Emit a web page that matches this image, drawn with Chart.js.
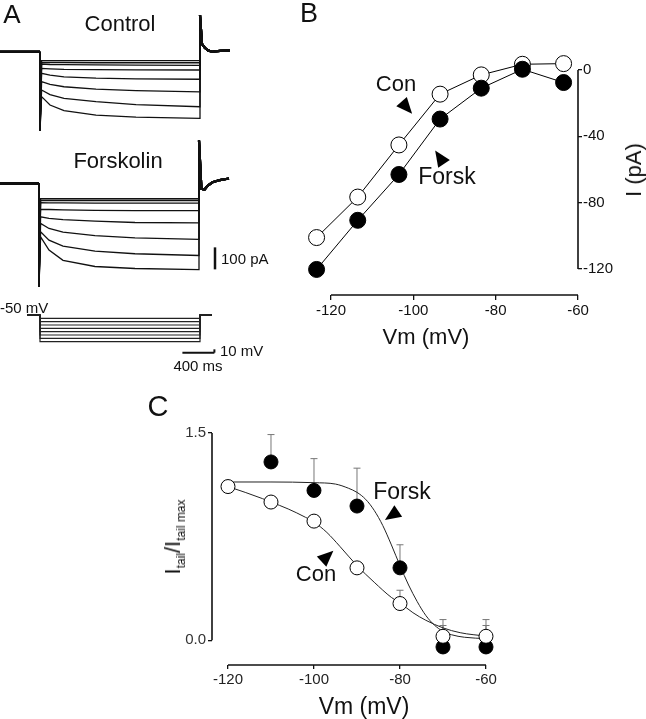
<!DOCTYPE html>
<html>
<head>
<meta charset="utf-8">
<script src="https://cdn.jsdelivr.net/npm/chart.js@4.4.1/dist/chart.umd.min.js"></script>
<style>
  html, body { margin: 0; padding: 0; background: #fff; overflow: hidden; }
  #fig { position: relative; width: 646px; height: 719px; font-family: "Liberation Sans", Arial, sans-serif; color: #111; }
  #fig canvas { position: absolute; }
  .t { position: absolute; transform: translate(-50%, -50%); white-space: nowrap; line-height: 1; }
  .l { position: absolute; transform: translate(0, -50%); white-space: nowrap; line-height: 1; }
  .rot { transform: translate(-50%, -50%) rotate(-90deg); }
  .sub { font-size: 12px; position: relative; top: 5px; }
</style>
</head>
<body>
<div id="fig">
  <canvas id="ctrl" width="240" height="140" style="left:0;top:0"></canvas>
  <canvas id="forsk" width="240" height="155" style="left:-1px;top:140px"></canvas>
  <canvas id="proto" width="240" height="60" style="left:0;top:295px"></canvas>
  <canvas id="iv" width="350" height="300" style="left:296px;top:40px"></canvas>
  <canvas id="tail" width="371" height="280" style="left:142px;top:415px"></canvas>

  <div class="t" style="left:12px;top:14px;font-size:26px">A</div>
  <div class="t" style="left:120px;top:24px;font-size:22px">Control</div>
  <div class="t" style="left:118px;top:161px;font-size:22px">Forskolin</div>
  <div class="l" style="left:221px;top:258px;font-size:15px">100 pA</div>
  <div class="l" style="left:0;top:307px;font-size:15px">-50 mV</div>
  <div class="l" style="left:220px;top:350px;font-size:15px">10 mV</div>
  <div class="t" style="left:198px;top:365px;font-size:15px">400 ms</div>

  <div class="t" style="left:309px;top:13px;font-size:27px">B</div>
  <div class="t" style="left:396px;top:84px;font-size:22px">Con</div>
  <div class="t" style="left:447px;top:176px;font-size:23px">Forsk</div>
  <div class="t" style="left:426px;top:337px;font-size:22px">Vm (mV)</div>
  <div class="t rot" style="left:634px;top:170px;font-size:22px">I (pA)</div>

  <div class="t" style="left:158px;top:406px;font-size:29px">C</div>
  <div class="t" style="left:402px;top:491px;font-size:23px">Forsk</div>
  <div class="t" style="left:316px;top:574px;font-size:22px">Con</div>
  <div class="t" style="left:364px;top:706px;font-size:23px">Vm (mV)</div>
  <div class="t rot" style="left:173px;top:537px;font-size:22px">I<span class="sub">tail</span>/I<span class="sub">tail max</span></div>
</div>

<script>
// ---- panel A: current sweeps (ms, pA) ----
const sweepTimes = [20, 125, 300, 700, 1200, 2000];
const controlSweeps = [
  [-40, -40, -40, -40, -40, -40],
  [-48, -49, -49, -50, -50, -50],
  [-56, -58, -59, -60, -61, -62],
  [-76, -78, -80, -81, -82, -83],
  [-98, -106, -114, -120, -123, -125],
  [-136, -148, -159, -170, -177, -182],
  [-174, -195, -212, -227, -240, -250],
  [-204, -242, -268, -288, -297, -303]
];
const controlOnset = -359;
const controlTailTimes = [2000, 2025, 2060, 2100, 2150, 2250, 2375];
const controlTail = [167, 35, 18, 6, 0, 4, 6];

const forskSweeps = [
  [-70, -70, -70, -70, -70, -70],
  [-78, -78, -78, -78, -78, -78],
  [-88, -89, -89, -90, -90, -90],
  [-118, -119, -121, -123, -124, -124],
  [-152, -159, -165, -172, -178, -180],
  [-182, -205, -222, -238, -248, -255],
  [-220, -258, -285, -308, -320, -328],
  [-243, -303, -350, -378, -387, -392]
];
const forskOnset = -470;
const forskTailTimes = [2000, 2030, 2070, 2110, 2170, 2260, 2375];
const forskTail = [195, -25, -28, -10, 5, 15, 22];

// voltage protocol (mV)
const holdingMv = -50;
const protocolSteps = [-60, -70, -80, -90, -100, -110, -120, -130];
const protocolStart = -160;
const protocolEnd = 2150;

// ---- panel B: I-V ----
const ivVm = [-123.5, -113.5, -103.5, -93.5, -83.5, -73.5, -63.5];
const ivCon = [-101, -76.6, -45.2, -14.6, -3, 3.4, 3.8];
const ivForsk = [-120.2, -90.6, -63, -29.6, -11, 0.4, -7.6];
const ivTicksX = [-120, -100, -80, -60];
const ivTicksY = [0, -40, -80, -120];

// ---- panel C: tail activation ----
const tailVmCon = [-120, -110, -100, -90, -80, -70, -60];
const tailCon = [1.112, 1.0, 0.862, 0.524, 0.266, 0.029, 0.029];
const tailConSem = [0, 0, 0, 0, 0.096, 0.121, 0.121];
const tailVmForsk = [-110, -100, -90, -80, -70, -60];
const tailForsk = [1.29, 1.084, 0.971, 0.524, -0.048, -0.048];
const tailForskSem = [0.198, 0.23, 0.274, 0.167, 0.155, 0.155];
const conFitVm = [-120, -116, -112, -110, -106, -102, -100, -97, -94, -90, -86, -82, -80, -77, -74, -70, -66, -60];
const conFit = [1.112, 1.07, 1.025, 1.0, 0.95, 0.89, 0.855, 0.78, 0.68, 0.54, 0.42, 0.31, 0.27, 0.2, 0.145, 0.09, 0.055, 0.03];
const forskFitVm = [-120, -110, -100, -95, -92, -90, -88, -86, -84, -82, -80, -78, -76, -74, -72, -70, -68, -65, -60];
const forskFit = [1.145, 1.145, 1.14, 1.13, 1.1, 1.07, 1.02, 0.94, 0.83, 0.69, 0.54, 0.4, 0.28, 0.18, 0.11, 0.065, 0.04, 0.022, 0.012];
const tailTicksX = [-120, -100, -80, -60];
const tailTicksY = [0, 1.5];

Chart.defaults.font.family = '"Liberation Sans", Arial, sans-serif';
Chart.defaults.color = '#111';

const figurePlugin = {
  id: 'figure',
  beforeDatasetsDraw(chart, args, opts) {
    const { ctx, chartArea } = chart;
    const x = chart.scales.x, y = chart.scales.y;
    ctx.save();
    ctx.strokeStyle = '#111';
    (opts.spines || []).forEach(s => {
      ctx.lineWidth = 1.6;
      ctx.beginPath();
      if (s.axis === 'x') {
        ctx.moveTo(x.getPixelForValue(s.from), chartArea.bottom);
        ctx.lineTo(x.getPixelForValue(s.to), chartArea.bottom);
      } else {
        const px = s.side === 'right' ? chartArea.right : chartArea.left;
        ctx.moveTo(px, y.getPixelForValue(s.from));
        ctx.lineTo(px, y.getPixelForValue(s.to));
      }
      ctx.stroke();
    });
    (opts.errorBars || []).forEach(set => {
      ctx.strokeStyle = '#777';
      ctx.lineWidth = 1;
      set.vm.forEach((v, i) => {
        if (!set.sem[i]) return;
        const px = x.getPixelForValue(v);
        const y0 = y.getPixelForValue(set.mean[i]);
        const y1 = y.getPixelForValue(set.mean[i] + set.sem[i]);
        ctx.beginPath();
        ctx.moveTo(px, y0);
        ctx.lineTo(px, y1);
        ctx.moveTo(px - 3.5, y1);
        ctx.lineTo(px + 3.5, y1);
        ctx.stroke();
      });
    });
    ctx.restore();
  },
  afterDatasetsDraw(chart, args, opts) {
    const { ctx } = chart;
    const x = chart.scales.x, y = chart.scales.y;
    ctx.save();
    ctx.strokeStyle = '#111';
    ctx.fillStyle = '#000';
    (opts.bars || []).forEach(b => {
      ctx.lineWidth = b.width;
      ctx.beginPath();
      ctx.moveTo(x.getPixelForValue(b.x1), y.getPixelForValue(b.y1));
      ctx.lineTo(x.getPixelForValue(b.x2), y.getPixelForValue(b.y2));
      ctx.stroke();
    });
    (opts.arrows || []).forEach(a => {
      const tx = x.getPixelForValue(a.vm), ty = y.getPixelForValue(a.val);
      const n = Math.hypot(a.dx, a.dy);
      const ux = a.dx / n, uy = a.dy / n;
      const L = 16, W = 7;
      const bx = tx - ux * L, by = ty - uy * L;
      ctx.beginPath();
      ctx.moveTo(tx, ty);
      ctx.lineTo(bx - uy * W, by + ux * W);
      ctx.lineTo(bx + uy * W, by - ux * W);
      ctx.closePath();
      ctx.fill();
    });
    ctx.restore();
  }
};

const baseOpts = {
  responsive: false,
  animation: false,
  devicePixelRatio: 1,
  events: [],
  plugins: { legend: { display: false }, tooltip: { enabled: false } }
};

function sweepPoints(levels, onset, tailT, tailV) {
  const pts = [{ x: -500, y: 0 }, { x: 0, y: 0 }, { x: 0, y: onset }];
  sweepTimes.forEach((t, i) => pts.push({ x: t, y: levels[i] }));
  tailT.forEach((t, i) => pts.push({ x: t, y: tailV[i] }));
  return pts;
}

function traceDataset(points) {
  return {
    data: points,
    showLine: true,
    pointRadius: 0,
    borderColor: '#111',
    borderWidth: 1.3,
    segment: {
      borderWidth: c => (c.p0.parsed.x < 0 || c.p1.parsed.x > 2000) ? 2.2 : 1.3
    }
  };
}

function traceChart(id, sweeps, onset, tailT, tailV, yMin, yMax, bars) {
  new Chart(document.getElementById(id), {
    type: 'scatter',
    data: { datasets: sweeps.map(s => traceDataset(sweepPoints(s, onset, tailT, tailV))) },
    options: {
      ...baseOpts,
      layout: { padding: 0 },
      scales: {
        x: { type: 'linear', min: -500, max: 2500, display: false },
        y: { type: 'linear', min: yMin, max: yMax, display: false }
      },
      plugins: { ...baseOpts.plugins, figure: { bars: bars } }
    },
    plugins: [figurePlugin]
  });
}

traceChart('ctrl', controlSweeps, controlOnset, controlTailTimes, controlTail, -401, 235, []);
traceChart('forsk', forskSweeps, forskOnset, forskTailTimes, forskTail, -507.5, 197,
  [{ x1: 2200, y1: -291, x2: 2200, y2: -391, width: 2.5 }]);

// voltage protocol
new Chart(document.getElementById('proto'), {
  type: 'scatter',
  data: {
    datasets: protocolSteps.map(v => ({
      data: [
        { x: protocolStart, y: holdingMv }, { x: 0, y: holdingMv }, { x: 0, y: v },
        { x: 2000, y: v }, { x: 2000, y: holdingMv }, { x: protocolEnd, y: holdingMv }
      ],
      showLine: true,
      pointRadius: 0,
      borderColor: '#222',
      borderWidth: 1.2
    }))
  },
  options: {
    ...baseOpts,
    layout: { padding: 0 },
    scales: {
      x: { type: 'linear', min: -500, max: 2500, display: false },
      y: { type: 'linear', min: -170, max: 10, display: false }
    },
    plugins: {
      ...baseOpts.plugins,
      figure: {
        bars: [
          { x1: 1780, y1: -163, x2: 2180, y2: -163, width: 2 },
          { x1: 2180, y1: -163, x2: 2180, y2: -153, width: 2 }
        ]
      }
    }
  },
  plugins: [figurePlugin]
});

// panel B
const tickGrid = len => ({ drawOnChartArea: false, tickLength: len, color: '#111', lineWidth: 1.3 });

new Chart(document.getElementById('iv'), {
  type: 'scatter',
  data: {
    datasets: [
      {
        label: 'Forsk',
        data: ivVm.map((v, i) => ({ x: v, y: ivForsk[i] })),
        showLine: true,
        borderColor: '#000',
        borderWidth: 1,
        pointRadius: 8,
        pointBorderWidth: 1,
        pointBackgroundColor: '#000',
        pointBorderColor: '#000',
        clip: false
      },
      {
        label: 'Con',
        data: ivVm.map((v, i) => ({ x: v, y: ivCon[i] })),
        showLine: true,
        borderColor: '#000',
        borderWidth: 1,
        pointRadius: 8,
        pointBorderWidth: 1,
        pointBackgroundColor: '#fff',
        pointBorderColor: '#000',
        clip: false
      }
    ]
  },
  options: {
    ...baseOpts,
    layout: { padding: { left: 10, top: 9, right: 0, bottom: 0 } },
    scales: {
      x: {
        type: 'linear', min: -126.07, max: -60,
        afterBuildTicks: s => { s.ticks = ivTicksX.map(v => ({ value: v })); },
        afterFit: s => { s.height = 45; },
        border: { display: false },
        grid: tickGrid(5),
        ticks: { font: { size: 15 }, color: '#111', padding: 2, maxRotation: 0, callback: v => String(v) }
      },
      y: {
        type: 'linear', position: 'right', min: -135.6, max: 12,
        afterBuildTicks: s => { s.ticks = ivTicksY.map(v => ({ value: v })); },
        afterFit: s => { s.width = 68; },
        border: { display: false },
        grid: tickGrid(4),
        ticks: { font: { size: 15 }, color: '#111', padding: 1, callback: v => String(v) }
      }
    },
    plugins: {
      ...baseOpts.plugins,
      figure: {
        spines: [
          { axis: 'x', from: -120, to: -60 },
          { axis: 'y', side: 'right', from: 0, to: -120 }
        ],
        arrows: [
          { vm: -100.3, val: -26.4, dx: 14, dy: 16 },
          { vm: -94.7, val: -48.6, dx: -8, dy: -12 }
        ]
      }
    }
  },
  plugins: [figurePlugin]
});

// panel C
new Chart(document.getElementById('tail'), {
  type: 'scatter',
  data: {
    datasets: [
      {
        label: 'Con',
        data: tailVmCon.map((v, i) => ({ x: v, y: tailCon[i] })),
        pointRadius: 7,
        pointBorderWidth: 1,
        pointBackgroundColor: '#fff',
        pointBorderColor: '#000',
        clip: false
      },
      {
        label: 'Forsk',
        data: tailVmForsk.map((v, i) => ({ x: v, y: tailForsk[i] })),
        pointRadius: 7,
        pointBorderWidth: 1,
        pointBackgroundColor: '#000',
        pointBorderColor: '#000',
        clip: false
      },
      {
        label: 'Con fit',
        data: conFitVm.map((v, i) => ({ x: v, y: conFit[i] })),
        showLine: true,
        pointRadius: 0,
        borderColor: '#222',
        borderWidth: 1,
        cubicInterpolationMode: 'monotone'
      },
      {
        label: 'Forsk fit',
        data: forskFitVm.map((v, i) => ({ x: v, y: forskFit[i] })),
        showLine: true,
        pointRadius: 0,
        borderColor: '#222',
        borderWidth: 1,
        cubicInterpolationMode: 'monotone'
      }
    ]
  },
  options: {
    ...baseOpts,
    layout: { padding: { left: 0, top: 8, right: 16, bottom: 0 } },
    scales: {
      x: {
        type: 'linear', min: -123.72, max: -57.44,
        afterBuildTicks: s => { s.ticks = tailTicksX.map(v => ({ value: v })); },
        afterFit: s => { s.height = 30; },
        border: { display: false },
        grid: tickGrid(4),
        ticks: { font: { size: 15 }, color: '#222', padding: 2, maxRotation: 0, callback: v => String(v) }
      },
      y: {
        type: 'linear', min: -0.1786, max: 1.55,
        afterBuildTicks: s => { s.ticks = tailTicksY.map(v => ({ value: v })); },
        afterFit: s => { s.width = 70; },
        border: { display: false },
        grid: tickGrid(4),
        ticks: { font: { size: 15 }, color: '#333', padding: 2, callback: v => v.toFixed(1) }
      }
    },
    plugins: {
      ...baseOpts.plugins,
      figure: {
        spines: [
          { axis: 'x', from: -120, to: -60 },
          { axis: 'y', side: 'left', from: 0, to: 1.5 }
        ],
        errorBars: [
          { vm: tailVmCon, mean: tailCon, sem: tailConSem },
          { vm: tailVmForsk, mean: tailForsk, sem: tailForskSem }
        ],
        arrows: [
          { vm: -83.5, val: 0.871, dx: -13.5, dy: 9 },
          { vm: -95.5, val: 0.648, dx: 12.5, dy: -11.5 }
        ]
      }
    }
  },
  plugins: [figurePlugin]
});
</script>
</body>
</html>
